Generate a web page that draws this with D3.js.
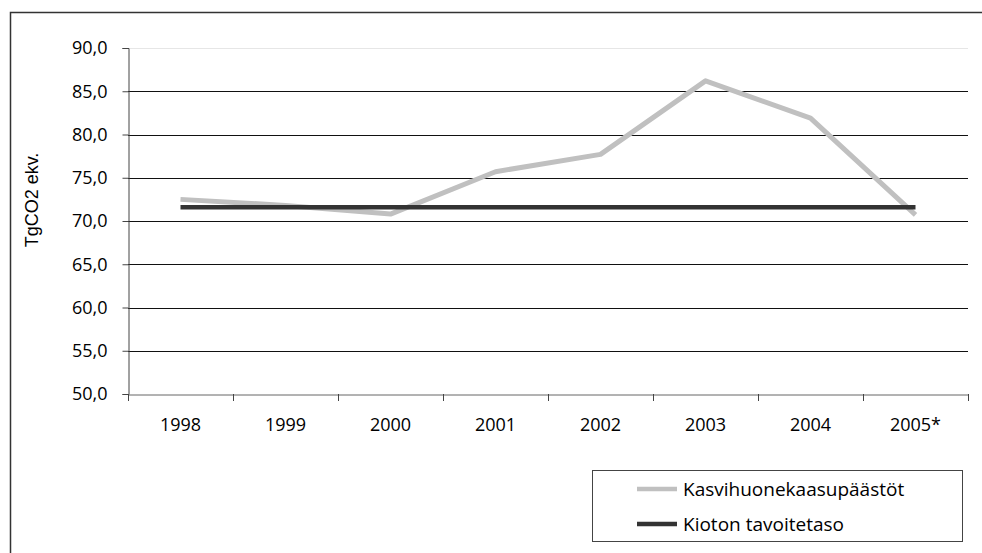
<!DOCTYPE html>
<html>
<head>
<meta charset="utf-8">
<script src="https://cdn.jsdelivr.net/npm/d3@7/dist/d3.min.js"></script>
<style>
  html, body { margin: 0; padding: 0; background: #fff; }
  svg { display: block; }
  text { font-family: "Open Sans", sans-serif; fill: #000; }
</style>
</head>
<body>
<svg id="chart" width="982" height="553"></svg>
<script>
// ---- data ----
const years = ["1998", "1999", "2000", "2001", "2002", "2003", "2004", "2005*"];
const emissions = [72.5, 71.8, 70.8, 75.7, 77.7, 86.2, 81.9, 70.7];
const kyotoTarget = [71.6, 71.6, 71.6, 71.6, 71.6, 71.6, 71.6, 71.6];
const yTicks = [50, 55, 60, 65, 70, 75, 80, 85, 90];
const seriesNames = ["Kasvihuonekaasupäästöt", "Kioton tavoitetaso"];
const yLabel = "TgCO2 ekv.";

// ---- layout ----
const svg = d3.select("#chart");
const plot = { left: 128, right: 968, top: 48, bottom: 394 };

// outer frame (extends past viewport on right/bottom)
svg.append("rect")
  .attr("x", 10.5).attr("y", 12.5)
  .attr("width", 1000).attr("height", 600)
  .attr("fill", "none").attr("stroke", "#333").attr("stroke-width", 1.5);

const x = d3.scaleBand().domain(years).range([plot.left, plot.right]).padding(0);
const y = d3.scaleLinear().domain([50, 90]).range([plot.bottom, plot.top]);

const fmt = d => d.toFixed(1).replace(".", ",");

// gridlines
svg.append("g")
  .selectAll("line")
  .data(yTicks.filter(t => t > 50))
  .join("line")
  .attr("x1", plot.left).attr("x2", plot.right)
  .attr("y1", d => Math.round(y(d)) + 0.5).attr("y2", d => Math.round(y(d)) + 0.5)
  .attr("stroke", d => d === 90 ? "#e6e6e6" : "#111")
  .attr("stroke-width", 1);

// y axis
const yAxis = svg.append("g")
  .attr("transform", `translate(${plot.left + 0.5},0)`)
  .call(d3.axisLeft(y).tickValues(yTicks).tickFormat(fmt).tickSize(6).tickPadding(15));
yAxis.select(".domain").attr("stroke", "#444");
yAxis.selectAll(".tick line").attr("stroke", "#444");
yAxis.selectAll("text").style("font-size", "18px").attr("fill", "#000")
  .style("font-family", "'Open Sans', sans-serif");

// x axis
const xAxis = svg.append("g")
  .attr("transform", `translate(0,${Math.round(plot.bottom) + 0.5})`)
  .call(d3.axisBottom(x).tickSize(0).tickPadding(24));
xAxis.select(".domain").attr("stroke", "#666");
xAxis.selectAll("text").style("font-size", "18px").attr("fill", "#000")
  .style("font-family", "'Open Sans', sans-serif");
// band boundary ticks
svg.append("g")
  .selectAll("line")
  .data(years.map(d => x(d)).concat([plot.right]))
  .join("line")
  .attr("x1", d => Math.round(d) + 0.5).attr("x2", d => Math.round(d) + 0.5)
  .attr("y1", plot.bottom).attr("y2", plot.bottom + 7)
  .attr("stroke", "#444");

// y label
svg.append("text")
  .attr("transform", `translate(38,200) rotate(-90)`)
  .attr("text-anchor", "middle")
  .style("font-family", "'Liberation Sans', Arial, sans-serif")
  .style("font-size", "18px")
  .text(yLabel);

// lines
const cx = d => x(d) + x.bandwidth() / 2;
const line = d3.line().x((d, i) => cx(years[i])).y(d => y(d));

svg.append("path")
  .datum(emissions)
  .attr("d", line)
  .attr("fill", "none")
  .attr("stroke", "#c0c0c0")
  .attr("stroke-width", 5)
  .attr("stroke-linejoin", "round");

svg.append("path")
  .datum(kyotoTarget)
  .attr("d", line)
  .attr("fill", "none")
  .attr("stroke", "#333")
  .attr("stroke-width", 4.5);

// legend
const lg = svg.append("g");
lg.append("rect")
  .attr("x", 592.5).attr("y", 470.5).attr("width", 370).attr("height", 71)
  .attr("fill", "#fff").attr("stroke", "#444").attr("stroke-width", 1);
const legendColors = ["#c0c0c0", "#333"];
const legendY = [489, 524];
seriesNames.forEach((name, i) => {
  lg.append("line")
    .attr("x1", 637).attr("x2", 677)
    .attr("y1", legendY[i]).attr("y2", legendY[i])
    .attr("stroke", legendColors[i]).attr("stroke-width", 4.5);
  lg.append("text")
    .attr("x", 683).attr("y", legendY[i])
    .attr("dy", "0.35em")
    .style("font-size", "19px")
    .text(name);
});
</script>
</body>
</html>
